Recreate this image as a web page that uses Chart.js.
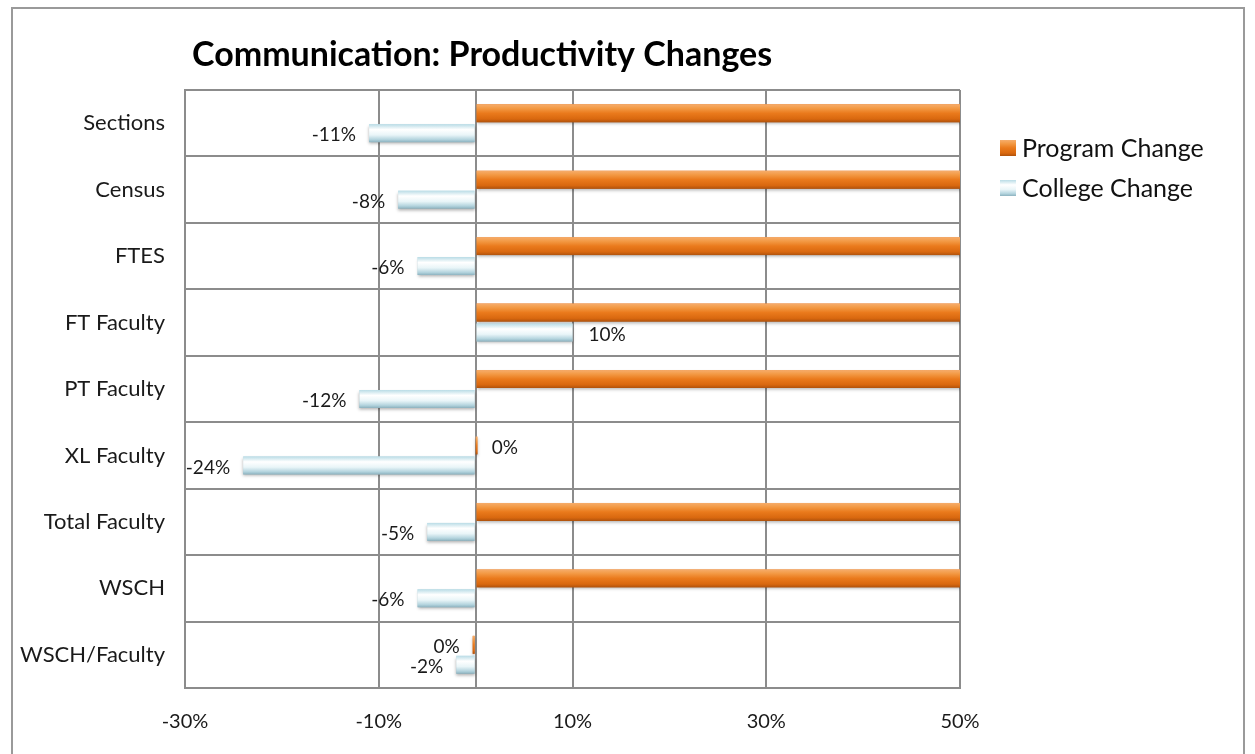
<!DOCTYPE html>
<html>
<head>
<meta charset="utf-8">
<script src="https://cdn.jsdelivr.net/npm/chart.js@4/dist/chart.umd.min.js"></script>
<style>
  html, body { margin: 0; padding: 0; background: #fff; }
  #wrap { width: 1255px; height: 754px; position: relative; }
</style>
</head>
<body>
<div id="wrap"><canvas id="myChart"></canvas></div>
<script>
const categories = ['Sections', 'Census', 'FTES', 'FT Faculty', 'PT Faculty', 'XL Faculty', 'Total Faculty', 'WSCH', 'WSCH/Faculty'];
const programChange = [67, 62, 58, 100, 75, 0, 80, 60, -0.3];
const collegeChange = [-11, -8, -6, 10, -12, -24, -5, -6, -2];
const xTicks = [-30, -10, 10, 30, 50];
const seriesNames = ['Program Change', 'College Change'];

const FONT = 'Lato, "Liberation Sans", sans-serif';

// bevel-ish shading for each series, top to bottom
const shades = [
  [[0, '#f6ad6c'], [0.22, '#f39a45'], [0.5, '#ea7a1c'], [0.82, '#d9680f'], [1, '#b0520c']],
  [[0, '#b9dce6'], [0.3, '#ffffff'], [0.6, '#e9f5f8'], [0.85, '#b4d4de'], [1, '#8cb2bf']]
];

function shadeFill(ctx, top, h, stops) {
  const g = ctx.createLinearGradient(0, top, 0, top + h);
  stops.forEach(s => g.addColorStop(s[0], s[1]));
  return g;
}

const pct = v => Math.round(v) + '%';

const chromePlugin = {
  id: 'chrome',
  beforeDraw(chart) {
    const ctx = chart.ctx;
    ctx.save();
    ctx.fillStyle = '#fff';
    ctx.fillRect(0, 0, chart.width, chart.height);
    ctx.strokeStyle = '#9a9a9a';
    ctx.lineWidth = 2;
    ctx.strokeRect(12, 8, 1232, 770);
    ctx.restore();
  },
  afterDraw(chart) {
    const ctx = chart.ctx;
    ctx.save();
    // title
    ctx.fillStyle = '#000';
    ctx.font = 'bold 34px ' + FONT;
    ctx.textBaseline = 'middle';
    ctx.textAlign = 'left';
    ctx.fillText('Communication: Productivity Changes', 192, 55);
    // legend
    ctx.font = '25px ' + FONT;
    seriesNames.forEach((name, i) => {
      const y = 148 + i * 40;
      ctx.fillStyle = shadeFill(ctx, y - 8, 16, shades[i]);
      ctx.fillRect(1000, y - 8, 16, 16);
      ctx.fillStyle = '#111';
      ctx.fillText(name, 1022, y + 1);
    });
    ctx.restore();
  }
};

const barStylePlugin = {
  id: 'barStyle',
  afterDatasetsDraw(chart) {
    const ctx = chart.ctx;
    const area = chart.chartArea;
    const xs = chart.scales.x;
    ctx.save();
    ctx.beginPath();
    ctx.rect(area.left, area.top, area.right - area.left, area.bottom - area.top);
    ctx.clip();
    chart.data.datasets.forEach((ds, di) => {
      chart.getDatasetMeta(di).data.forEach(bar => {
        const p = bar.getProps(['x', 'y', 'base', 'height'], true);
        const left = Math.min(p.x, p.base);
        const w = Math.max(Math.abs(p.x - p.base), 2);
        const top = p.y - p.height / 2;
        ctx.save();
        ctx.shadowColor = 'rgba(0,0,0,0.3)';
        ctx.shadowBlur = 3;
        ctx.shadowOffsetY = 2;
        ctx.fillStyle = shadeFill(ctx, top, p.height, shades[di]);
        ctx.fillRect(left, top, w, p.height);
        ctx.restore();
      });
    });
    ctx.restore();

    // value labels
    ctx.save();
    ctx.font = '19px ' + FONT;
    ctx.fillStyle = '#1a1a1a';
    ctx.textBaseline = 'middle';
    chart.data.datasets.forEach((ds, di) => {
      chart.getDatasetMeta(di).data.forEach((bar, i) => {
        const v = ds.data[i];
        if (v > xs.max || v < xs.min) return;
        const p = bar.getProps(['x', 'y', 'base'], true);
        if (v < 0) {
          ctx.textAlign = 'right';
          ctx.fillText(pct(v), p.x - 13, p.y + 2);
        } else {
          ctx.textAlign = 'left';
          ctx.fillText(pct(v), p.x + 16, p.y + 2);
        }
      });
    });
    ctx.restore();
  }
};

new Chart(document.getElementById('myChart'), {
  type: 'bar',
  data: {
    labels: categories,
    datasets: [{
      label: seriesNames[0],
      data: programChange,
      backgroundColor: '#e87722'
    }, {
      label: seriesNames[1],
      data: collegeChange,
      backgroundColor: '#cfe8ef'
    }]
  },
  options: {
    indexAxis: 'y',
    responsive: true,
    maintainAspectRatio: false,
    animation: false,
    categoryPercentage: 0.6,
    barPercentage: 0.9,
    layout: {
      padding: { top: 90, right: 295, left: 0, bottom: 0 }
    },
    plugins: {
      legend: { display: false },
      title: { display: false },
      tooltip: { enabled: false }
    },
    scales: {
      x: {
        min: -30,
        max: 50,
        afterBuildTicks: (scale) => {
          scale.ticks = xTicks.concat([0]).sort((a, b) => a - b).map(v => ({ value: v }));
        },
        afterFit: (scale) => { scale.height = 66; },
        grid: { color: '#8c8c8c', lineWidth: 2, drawTicks: false },
        border: { color: '#8c8c8c', width: 2 },
        ticks: {
          padding: 22,
          color: '#1a1a1a',
          font: { family: FONT, size: 20 },
          callback: (v) => xTicks.includes(v) ? v + '%' : ''
        }
      },
      y: {
        afterFit: (scale) => { scale.width = 185; },
        grid: { color: '#8c8c8c', lineWidth: 2, drawTicks: false, offset: true },
        border: { color: '#8c8c8c', width: 2 },
        ticks: {
          padding: 20,
          color: '#1a1a1a',
          font: { family: FONT, size: 22 }
        }
      }
    }
  },
  plugins: [chromePlugin, barStylePlugin]
});
</script>
</body>
</html>
